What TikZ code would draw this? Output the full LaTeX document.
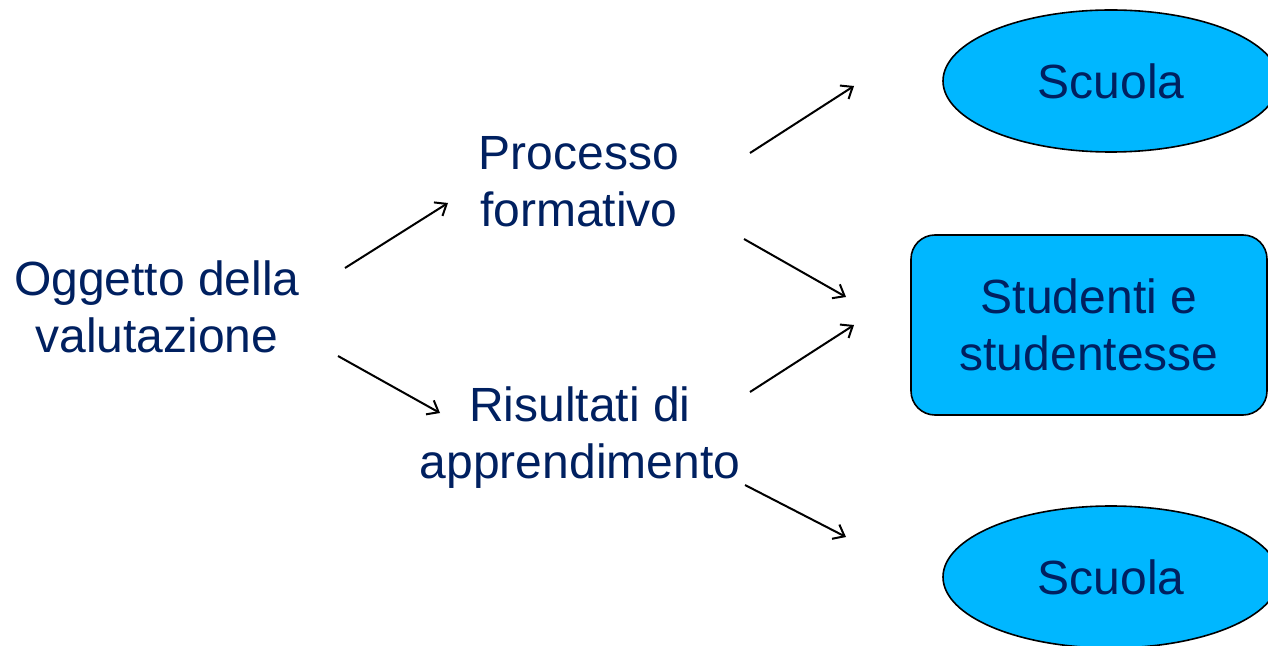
\documentclass[tikz,border=0pt]{standalone}
\usepackage{fontspec}
\setmainfont{Liberation Sans}
\usetikzlibrary{shapes.geometric,arrows.meta}
\definecolor{boxblue}{RGB}{0,183,255}
\definecolor{textnavy}{RGB}{0,32,96}

\begin{document}
\begin{tikzpicture}[
					x=0.5pt, y=-0.5pt,
					term/.style={align=center, text=textnavy, font=\fontsize{24}{28.5}\selectfont},
					blob/.style={ellipse, draw, line width=0.8pt, fill=boxblue, minimum width=168pt, minimum height=71pt},
					panel/.style={rectangle, rounded corners=12pt, draw, line width=0.8pt, fill=boxblue, minimum width=178pt, minimum height=90pt},
					link/.style={-{Straight Barb[length=5pt,width=8pt]}, line width=1pt},
					]
					\useasboundingbox (0,0) rectangle (1268,646);
					% texts on the left
					\node [term] (oggetto) at (157,307) {Oggetto della\\valutazione};
					\node [term] (processo) at (579,182) {Processo\\formativo};
					\node [term] (risultati) at (580,438) {Risultati di\\apprendimento};
					% targets on the right
					\node [blob,term] (scuolaA) at (1111,81) {Scuola};
					\node [panel,term] (studenti) at (1089,325) {Studenti e\\studentesse};
					\node [blob,term] (scuolaB) at (1111,577) {Scuola};
					% free arrow ends
					\coordinate (oA) at (345,268); \coordinate (pA) at (448,203);
					\coordinate (oB) at (338,356); \coordinate (rA) at (440,413);
					\coordinate (pB) at (750,153); \coordinate (sA) at (854,86);
					\coordinate (pC) at (744,239); \coordinate (tA) at (846,297);
					\coordinate (rB) at (750,392); \coordinate (tB) at (854,325);
					\coordinate (rC) at (745,485); \coordinate (sB) at (846,537);
					\draw[link] (oA) -- (pA);
					\draw[link] (oB) -- (rA);
					\draw[link] (pB) -- (sA);
					\draw[link] (pC) -- (tA);
					\draw[link] (rB) -- (tB);
					\draw[link] (rC) -- (sB);
				\end{tikzpicture}
\end{document}
